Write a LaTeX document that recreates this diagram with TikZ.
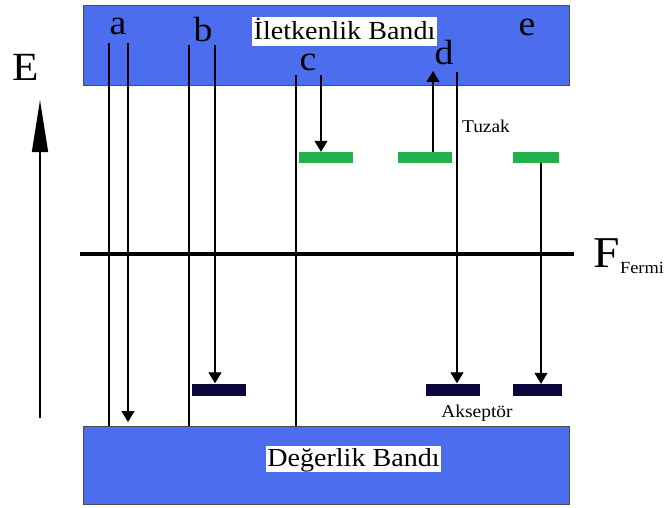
\documentclass[tikz,border=0pt]{standalone}
\usepackage{fontspec}
\setmainfont{Liberation Serif}[FakeStretch=1.08]
\usetikzlibrary{arrows.meta}
\definecolor{bandblue}{RGB}{76,110,238}
\definecolor{trapgreen}{RGB}{34,177,76}
\definecolor{accnavy}{RGB}{8,8,60}
\newcommand{\fsz}[1]{\fontsize{#1}{#1}\selectfont}
\begin{document}
\begin{tikzpicture}[x=1pt,y=-1pt,
  band/.style={draw=black!70, line width=0.8pt, fill=bandblue, minimum width=486pt, inner sep=0pt},
  bandlabel/.style={fill=white, inner sep=1.5pt, text depth=4.5pt, anchor=base, font=\fsz{26}},
  letter/.style={inner sep=0pt, anchor=base, font=\fsz{35}},
  small/.style={inner sep=0pt, anchor=base, font=\fsz{18}},
  trap/.style={fill=trapgreen, minimum width=54pt, minimum height=11pt, inner sep=0pt},
  acc/.style={fill=accnavy, minimum width=54pt, minimum height=12pt, inner sep=0pt},
  tr/.style={line width=1.3pt},
  tip/.style={-{Triangle[length=11pt,width=13pt]}},
]
\useasboundingbox (0,0) rectangle (666,508);

% conduction and valence bands
\node[band, minimum height=80pt] (cb) at (326,45.5) {};
\node[band, minimum height=78pt] (vb) at (326,465) {};
\node[bandlabel] (cbl) at (344.5,40) {İletkenlik Bandı};
\node[bandlabel] (vbl) at (353.5,466) {Değerlik Bandı};

% process letters
\node[letter] (la) at (118,35) {a};
\node[letter] (lb) at (203,42) {b};
\node[letter] (lc) at (308,71) {c};
\node[letter] (ld) at (444,65) {d};
\node[letter] (le) at (527,36) {e};

% trap levels and acceptor levels
\node[trap] (tc) at (326,157.5) {};
\node[trap] (td) at (424.5,157.5) {};
\node[trap,minimum width=46pt] (te) at (536,157.5) {};
\node[acc] (ab) at (219,389.5) {};
\node[acc] (ad) at (453,389.5) {};
\node[acc,minimum width=49pt] (ae) at (537.5,390) {};
\node[small] (tz) at (486,132) {Tuzak};
\node[small] (ak) at (477,417) {Akseptör};

% Fermi level
\coordinate (fl) at (80,254);
\coordinate (fr) at (574,254);
\draw[line width=3.5pt] (fl) -- (fr);
\node[inner sep=0pt, anchor=base, font=\fsz{44}] (F) at (607,267) {F};
\node[inner sep=0pt, anchor=base, font=\fsz{17}] (Fs) at (642,273) {Fermi};

% energy axis
\node[inner sep=0pt, anchor=base, font=\fsz{40}] (E) at (26,81) {E};
\coordinate (ax0) at (40,418);
\coordinate (ax1) at (40,100);
\draw[line width=1.3pt, -{Triangle[length=52pt,width=16pt]}] (ax0) -- (ax1);

% a: band to band
\coordinate (a1) at (109,43);
\coordinate (a2) at (128,43);
\coordinate (a2e) at (128,422);
\draw[tr] (a1) -- (a1 |- vb.north);
\draw[tr,tip] (a2) -- (a2e);

% b: band to acceptor
\coordinate (b1) at (189,45);
\coordinate (b2) at (215,45);
\draw[tr] (b1) -- (b1 |- vb.north);
\draw[tr,tip] (b2) -- (b2 |- ab.north);

% c: band to trap
\coordinate (c1) at (296,75);
\coordinate (c2) at (321,75);
\draw[tr] (c1) -- (c1 |- vb.north);
\draw[tr,tip] (c2) -- (c2 |- tc.north);

% d: trap to band, band to acceptor
\coordinate (d1) at (433,71);
\coordinate (d2) at (457,72);
\draw[tr,tip] (d1 |- td.north) -- (d1);
\draw[tr,tip] (d2) -- (d2 |- ad.north);

% e: trap to acceptor
\coordinate (e1) at (541,157);
\draw[tr,tip] (e1 |- te.south) -- (e1 |- ae.north);
\end{tikzpicture}
\end{document}
